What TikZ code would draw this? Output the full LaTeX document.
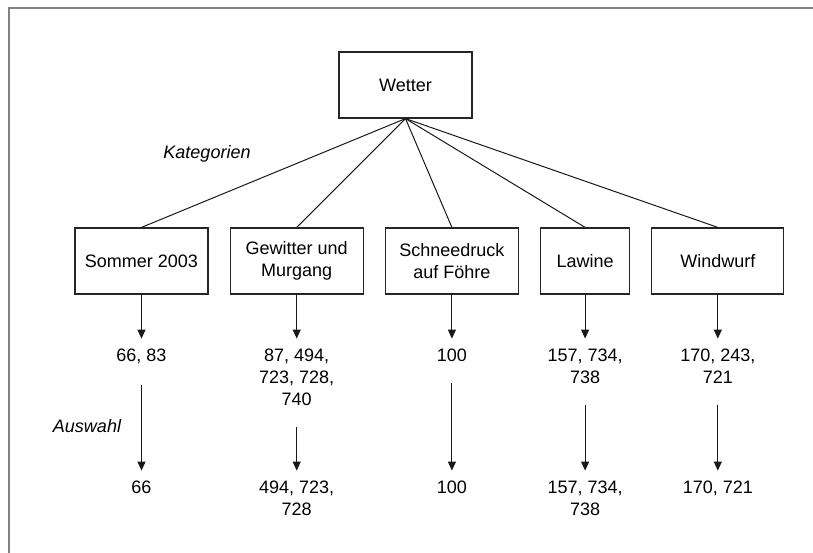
\documentclass[tikz,border=0pt]{standalone}
\usepackage{fontspec}
\setmainfont{Liberation Sans}
\usetikzlibrary{positioning}
\usetikzlibrary{arrows.meta}

\begin{document}
\begin{tikzpicture}
            [x=1pt, y=-1pt,
            every node/.style={font=\fontsize{18}{22}\selectfont},
            box/.style={draw=boxcolor, line width=1.2pt, minimum width=133pt, minimum height=66pt, align=center, inner sep=2pt},
            num/.style={align=center, inner sep=0pt},
            tag/.style={font=\fontsize{18}{22}\selectfont\itshape},
            link/.style={draw=linkcolor, line width=1pt},
            pick/.style={draw=linkcolor, line width=1pt, -{Triangle[length=9pt, width=8pt]}},
            ]
            \colorlet{boxcolor}{black!85}
            \colorlet{linkcolor}{black!90}
            \colorlet{framecolor}{black!50}
            \useasboundingbox (0,0) rectangle (813,553);

            % frame
            \draw[framecolor, line width=2pt] (9,553) -- (9,8) -- (813,8);

            % root
            \node[box] (wetter) at (405.5,85) {Wetter};

            % categories
            \node[box] (sommer) at (141.5,261) {Sommer 2003};
            \node[box, right=21pt of sommer] (gewitter) {Gewitter und\\Murgang};
            \node[box, right=21pt of gewitter] (schnee) {Schneedruck\\auf Föhre};
            \node[box, right=21pt of schnee, minimum width=89pt] (lawine) {Lawine};
            \node[box, right=21pt of lawine, minimum width=132pt] (windwurf) {Windwurf};

            \node[tag] (kategorien) at (207,154) {Kategorien};
            \node[tag] (auswahl) at (87,426) {Auswahl};

            % numbers
            \node[num, below=54pt of sommer] (sommer1) {66, 83};
            \node[num, below=54pt of gewitter] (gewitter1) {87, 494,\\723, 728,\\740};
            \node[num, below=54pt of schnee] (schnee1) {100};
            \node[num, below=54pt of lawine] (lawine1) {157, 734,\\738};
            \node[num, below=54pt of windwurf] (windwurf1) {170, 243,\\721};

            % selection
            \node[num, below=186pt of sommer] (sommer2) {66};
            \node[num, below=186pt of gewitter] (gewitter2) {494, 723,\\728};
            \node[num, below=186pt of schnee] (schnee2) {100};
            \node[num, below=186pt of lawine] (lawine2) {157, 734,\\738};
            \node[num, below=186pt of windwurf] (windwurf2) {170, 721};

            \draw[link] (wetter.south) -- (sommer.north);
            \draw[link] (wetter.south) -- (gewitter.north);
            \draw[link] (wetter.south) -- (schnee.north);
            \draw[link] (wetter.south) -- (lawine.north);
            \draw[link] (wetter.south) -- (windwurf.north);

            \draw[pick, shorten >=10pt] (sommer) -- (sommer1);
            \draw[pick, shorten >=10pt] (gewitter) -- (gewitter1);
            \draw[pick, shorten >=10pt] (schnee) -- (schnee1);
            \draw[pick, shorten >=10pt] (lawine) -- (lawine1);
            \draw[pick, shorten >=10pt] (windwurf) -- (windwurf1);

            \draw[pick, shorten <=21pt, shorten >=10pt] (sommer1) -- (sommer2);
            \draw[pick, shorten <=21pt, shorten >=10pt] (gewitter1) -- (gewitter2);
            \draw[pick, shorten <=21pt, shorten >=10pt] (schnee1) -- (schnee2);
            \draw[pick, shorten <=21pt, shorten >=10pt] (lawine1) -- (lawine2);
            \draw[pick, shorten <=21pt, shorten >=10pt] (windwurf1) -- (windwurf2);
        \end{tikzpicture}
\end{document}
